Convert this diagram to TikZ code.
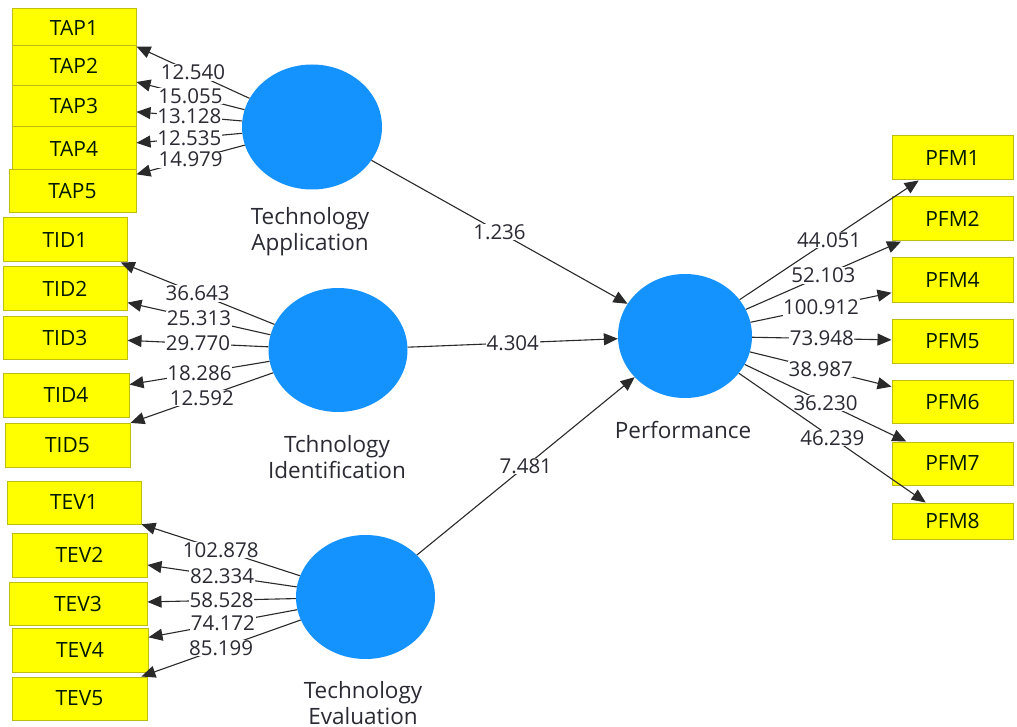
\documentclass[tikz,border=0pt]{standalone}
\usepackage{fontspec}
\setmainfont{Open Sans}
\usetikzlibrary{shapes.geometric,arrows.meta}
\definecolor{boxyellow}{HTML}{FFFF00}
\definecolor{boxborder}{HTML}{BEBE10}
\definecolor{lvblue}{HTML}{1492FE}
\definecolor{txt}{HTML}{2A2A33}
\definecolor{linec}{HTML}{2A2A2A}
\begin{document}
\begin{tikzpicture}[x=1pt,y=-1pt,
  ind/.style={draw=boxborder,line width=1pt,fill=boxyellow,inner sep=0pt,
    font=\fontsize{21}{24}\selectfont,text=black!90!green},
  lv/.style={ellipse,fill=lvblue,draw=none,minimum width=139pt,minimum height=124pt,inner sep=0pt},
  lvlab/.style={align=center,font=\fontsize{22.5}{26}\selectfont,text=txt},
  conn/.style={draw=linec,line width=1.1pt,-{Triangle[length=14pt,width=12pt]}},
  num/.style={fill=white,inner sep=0.6pt,font=\fontsize{20.5}{21}\selectfont,text=txt}]
\useasboundingbox (0,0) rectangle (1017,727);
\clip (0,0) rectangle (1017,727);
\fill[white] (0,0) rectangle (1017,727);

% indicator boxes
\node[ind,minimum width=124pt,minimum height=37pt] (TAP1) at (74,27.5) {TAP1};
\node[ind,minimum width=124pt,minimum height=40pt] (TAP2) at (74,66) {TAP2};
\node[ind,minimum width=124pt,minimum height=41pt] (TAP3) at (74,106.5) {TAP3};
\node[ind,minimum width=124pt,minimum height=43pt] (TAP4) at (74,148.5) {TAP4};
\node[ind,minimum width=127pt,minimum height=43pt] (TAP5) at (72.5,191.5) {TAP5};

\node[ind,minimum width=124pt,minimum height=44pt] (TID1) at (65,240) {TID1};
\node[ind,minimum width=124pt,minimum height=43pt] (TID2) at (65,288.5) {TID2};
\node[ind,minimum width=124pt,minimum height=43pt] (TID3) at (65,337.5) {TID3};
\node[ind,minimum width=126pt,minimum height=44pt] (TID4) at (66,395) {TID4};
\node[ind,minimum width=125pt,minimum height=44pt] (TID5) at (67.5,445) {TID5};

\node[ind,minimum width=134pt,minimum height=43pt] (TEV1) at (74,502.5) {TEV1};
\node[ind,minimum width=135pt,minimum height=44pt] (TEV2) at (79.5,555) {TEV2};
\node[ind,minimum width=138pt,minimum height=43pt] (TEV3) at (78,603.5) {TEV3};
\node[ind,minimum width=136pt,minimum height=44pt] (TEV4) at (80,650) {TEV4};
\node[ind,minimum width=135pt,minimum height=43pt] (TEV5) at (79.5,698.5) {TEV5};

\node[ind,minimum width=121pt,minimum height=44pt] (PFM1) at (952.5,158) {PFM1};
\node[ind,minimum width=121pt,minimum height=44pt] (PFM2) at (952.5,219) {PFM2};
\node[ind,minimum width=121pt,minimum height=44pt] (PFM4) at (952.5,280) {PFM4};
\node[ind,minimum width=121pt,minimum height=44pt] (PFM5) at (952.5,341) {PFM5};
\node[ind,minimum width=121pt,minimum height=43pt] (PFM6) at (952.5,401.5) {PFM6};
\node[ind,minimum width=121pt,minimum height=43pt] (PFM7) at (952.5,463.5) {PFM7};
\node[ind,minimum width=121pt,minimum height=36pt] (PFM8) at (952.5,521) {PFM8};

% latent variables
\node[lv,minimum width=140pt,minimum height=125pt] (TA) at (312,127) {};
\node[lv] (TI) at (338,350) {};
\node[lv] (TE) at (365.5,597) {};
\node[lv,minimum width=134pt] (PF) at (685,336) {};

\node[lvlab] (TAl) at (310,232) {Technology\\Application};
\node[lvlab] (TIl) at (337,457) {Tchnology\\Identification};
\node[lvlab] (TEl) at (363,703) {Technology\\Evaluation};
\node[lvlab] (PFl) at (683,430) {Performance};

% outer loadings
\draw[conn] (TA) -- node[num]{12.540} (TAP1.south east);
\draw[conn] (TA) -- node[num]{15.055} (TAP2);
\draw[conn] (TA) -- node[num]{13.128} (TAP3);
\draw[conn] (TA) -- node[num]{12.535} (TAP4);
\draw[conn] (TA) -- node[num]{14.979} (TAP5);

\draw[conn] (TI) -- node[num]{36.643} (TID1);
\draw[conn] (TI) -- node[num]{25.313} (TID2);
\draw[conn] (TI) -- node[num]{29.770} (TID3);
\draw[conn] (TI) -- node[num]{18.286} (TID4);
\draw[conn] (TI) -- node[num]{12.592} (TID5);

\draw[conn] (TE) -- node[num]{102.878} (TEV1);
\draw[conn] (TE) -- node[num]{82.334} (TEV2);
\draw[conn] (TE) -- node[num]{58.528} (TEV3);
\draw[conn] (TE) -- node[num]{74.172} (TEV4);
\draw[conn] (TE) -- node[num]{85.199} (TEV5);

\draw[conn] (PF) -- node[num]{44.051} (PFM1);
\draw[conn] (PF) -- node[num]{52.103} (PFM2);
\draw[conn] (PF) -- node[num]{100.912} (PFM4);
\draw[conn] (PF) -- node[num]{73.948} (PFM5);
\draw[conn] (PF) -- node[num]{38.987} (PFM6);
\draw[conn] (PF) -- node[num]{36.230} (PFM7);
\draw[conn] (PF) -- node[num]{46.239} (PFM8);

% inner paths
\draw[conn] (TA) -- node[num]{1.236} (PF);
\draw[conn] (TI) -- node[num]{4.304} (PF);
\draw[conn] (TE) -- node[num]{7.481} (PF);
\end{tikzpicture}
\end{document}
